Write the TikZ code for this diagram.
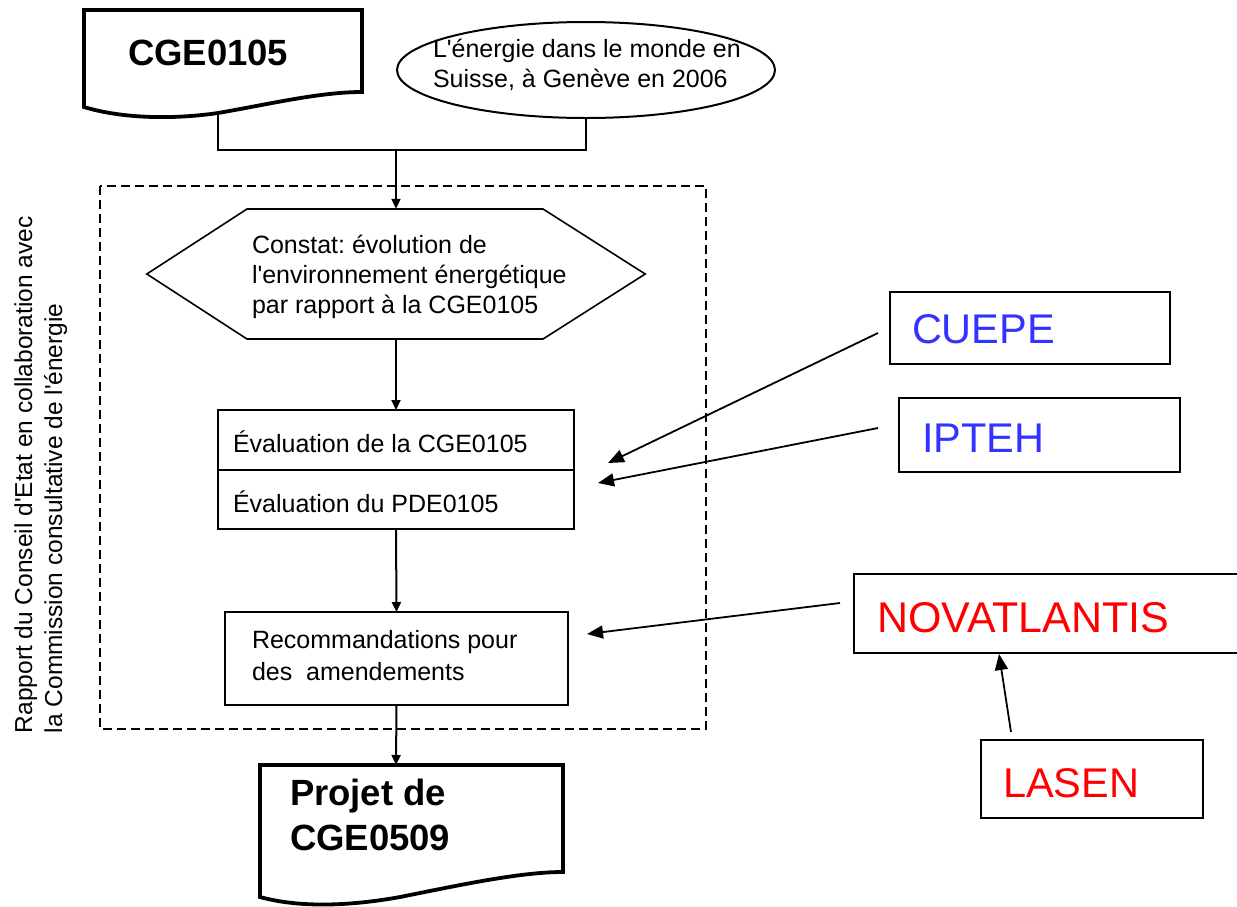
\documentclass[tikz,border=0pt]{standalone}
\usepackage{fontspec}
\setmainfont{Liberation Sans}
\usetikzlibrary{shapes.geometric,arrows.meta}
\newcommand{\lns}[1]{\begin{tabular}[t]{@{}l@{}}#1\end{tabular}}
\newcommand{\ap}{\textquotesingle}
\definecolor{cblue}{RGB}{51,51,255}
\definecolor{cred}{RGB}{255,0,0}
\begin{document}
\begin{tikzpicture}[x=1pt,y=-1pt,
  txt/.style={inner sep=0pt, outer sep=0pt, font=\fontsize{25}{30}\selectfont},
  bigtxt/.style={inner sep=0pt, outer sep=0pt, font=\fontsize{36.5}{45}\selectfont\bfseries},
  orgtxt/.style={inner sep=0pt, outer sep=0pt, font=\fontsize{41.5}{48}\selectfont},
  docline/.style={line width=3.8pt, line join=miter},
  thinline/.style={line width=1.4pt},
  flowbox/.style={draw, line width=1.4pt, inner sep=0pt, outer sep=0pt},
  orgbox/.style={draw, line width=2pt, inner sep=0pt, outer sep=0pt, anchor=north west},
  mainarr/.style={line width=2pt, -{Triangle[length=10pt,width=9pt]}},
  sidearr/.style={line width=1.8pt, -{Triangle[length=16pt,width=13pt]}},
  group/.style={draw, line width=2pt, dash pattern=on 9pt off 5pt}
]
\useasboundingbox (0,0) rectangle (1237,906);
\fill[white] (0,0) rectangle (1237,906);

% dashed group
\draw[group] (100,186) rectangle (706,729);

% CGE0105 document
\draw[docline] (84,107) -- (84,10) -- (362,10) -- (362,92)
  .. controls (320,92) and (270,104) .. (218,113)
  .. controls (170,120) and (120,118) .. (84,107) -- cycle;
\node[bigtxt, anchor=base west] (cge) at (128,65) {CGE0105};
\coordinate (cgeb) at (218,113);

% ellipse
\node[draw, ellipse, line width=2pt, minimum width=378pt, minimum height=96pt, inner sep=0pt] (ell) at (586,70) {};
\node[txt, anchor=base west] (elltxt) at (433,57) {\lns{L\ap énergie dans le monde en\\Suisse, à Genève en 2006}};

% side label
\node[txt, font=\fontsize{24.5}{30}\selectfont, rotate=90, anchor=base west] (side) at (32,733) {\lns{Rapport du Conseil d\ap Etat en collaboration avec\\la Commission consultative de l\ap énergie}};

% hexagon
\node[inner sep=0pt, minimum width=498pt, minimum height=130pt] (hex) at (396,274) {};
\draw[line width=1.6pt] (hex.west) -- (247,209) -- (543,209) -- (hex.east) -- (543,339) -- (247,339) -- cycle;
\node[txt, anchor=base west] (hextxt) at (252,253) {\lns{Constat:\ évolution de\\l\ap environnement énergétique\\par rapport à la CGE0105}};

% evaluation boxes
\node[flowbox, minimum width=356pt, minimum height=60pt, anchor=north west] (ev1) at (218,410) {};
\node[flowbox, minimum width=356pt, minimum height=59pt, anchor=north west] (ev2) at (218,470) {};
\node[txt, anchor=base west] (ev1txt) at (233,452) {Évaluation de la CGE0105};
\node[txt, anchor=base west] (ev2txt) at (233,512) {Évaluation du PDE0105};

% recommendations
\node[flowbox, minimum width=343pt, minimum height=93pt, anchor=north west] (rec) at (225,612) {};
\node[txt, font=\fontsize{25}{32}\selectfont, anchor=base west] (rectxt) at (252,648) {\lns{Recommandations pour\\des\ \ amendements}};

% Projet document
\draw[docline] (260,897) -- (260,765) -- (563,765) -- (563,872)
  .. controls (520,872) and (460,885) .. (400,897)
  .. controls (350,906) and (300,908) .. (260,897) -- cycle;
\node[bigtxt, anchor=base west] (proj) at (290,805) {\lns{Projet de\\CGE0509}};
\coordinate (projtop) at (396,765);

% main connectors
\coordinate (join) at (396,150);
\draw[thinline] (cgeb) |- (join) -| (ell.south);
\draw[mainarr] (join) -- (hex.north);
\draw[mainarr] (hex.south) -- (ev1.north);
\draw[mainarr] (ev2.south) -- (rec.north);
\draw[mainarr] (rec.south) -- (projtop);

% organisations
\node[orgbox, minimum width=280pt, minimum height=72pt] (cuepe) at (890,292) {};
\node[orgtxt, text=cblue, anchor=base west] (cuepetxt) at (912,343) {CUEPE};
\node[orgbox, minimum width=281pt, minimum height=74pt] (ipteh) at (899,398) {};
\node[orgtxt, text=cblue, anchor=base west] (iptehtxt) at (922,452) {IPTEH};
\node[orgbox, minimum width=387pt, minimum height=79pt] (nova) at (854,574) {};
\node[orgtxt, font=\fontsize{43}{48}\selectfont, text=cred, anchor=base west] (novatxt) at (877,632) {NOVATLANTIS};
\node[orgbox, minimum width=222pt, minimum height=78pt] (lasen) at (981,740) {};
\node[orgtxt, text=cred, anchor=base west] (lasentxt) at (1003,797) {LASEN};

% side arrows
\coordinate (cuepeA) at (878,333);
\coordinate (cuepeT) at (608,463);
\coordinate (iptehA) at (878,428);
\coordinate (iptehT) at (598,483);
\coordinate (novaA) at (840,603);
\coordinate (novaT) at (587,634);
\coordinate (lasenA) at (1011,732);
\coordinate (lasenT) at (999,654);
\draw[sidearr] (cuepeA) -- (cuepeT);
\draw[sidearr] (iptehA) -- (iptehT);
\draw[sidearr] (novaA) -- (novaT);
\draw[sidearr] (lasenA) -- (lasenT);
\end{tikzpicture}
\end{document}
